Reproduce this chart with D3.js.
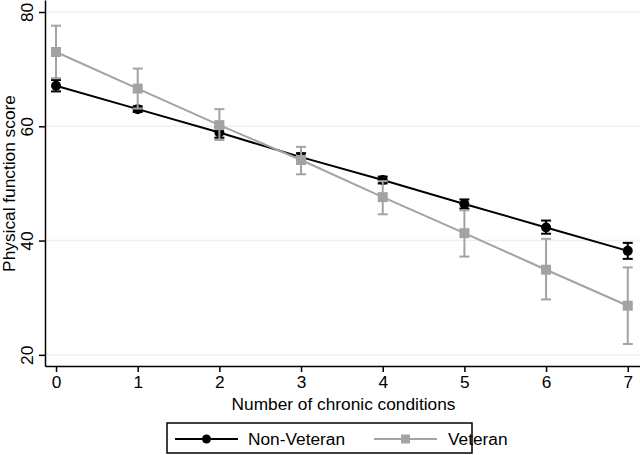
<!DOCTYPE html>
<html>
<head>
<meta charset="utf-8">
<script src="https://cdn.jsdelivr.net/npm/d3@7"></script>
<style>
  html, body { margin: 0; padding: 0; background: #fff; }
  svg { display: block; font-family: "Liberation Sans", Arial, Helvetica, sans-serif; }
</style>
</head>
<body>
<svg id="chart" width="640" height="455"></svg>
<script>
// ---- data ----
const conditions = [0, 1, 2, 3, 4, 5, 6, 7];
const nonVeteran = [67.1, 63.0, 58.9, 54.6, 50.6, 46.4, 42.3, 38.2];
const nonVeteranLo = [66.1, 62.5, 58.0, 53.9, 50.0, 45.6, 41.2, 36.8];
const nonVeteranHi = [68.1, 63.5, 59.8, 55.3, 51.2, 47.2, 43.5, 39.6];
const veteran = [73.0, 66.6, 60.2, 54.1, 47.6, 41.3, 34.9, 28.6];
const veteranLo = [68.4, 63.1, 57.6, 51.6, 44.6, 37.2, 29.7, 21.9];
const veteranHi = [77.6, 70.1, 63.0, 56.4, 50.4, 45.3, 40.3, 35.3];
const yTicks = [20, 40, 60, 80];
const xTicks = [0, 1, 2, 3, 4, 5, 6, 7];
const seriesNames = ["Non-Veteran", "Veteran"];

(function () {
const svg = d3.select("#chart");
const mLeft = 45, mRight = 640, mTop = 0, mBottom = 366;
const FS = 17.3;

const x = d3.scaleLinear().domain([-0.135, 7.15]).range([mLeft, mRight]);
const y = d3.scaleLinear().domain([18.05, 82.1]).range([mBottom, mTop]);

const black = "#000000", gray = "#a3a3a3";

// gridlines
svg.append("g").selectAll("line").data(yTicks).join("line")
  .attr("x1", mLeft).attr("x2", mRight)
  .attr("y1", d => y(d)).attr("y2", d => y(d))
  .attr("stroke", "#efefef").attr("stroke-width", 1.5);

// axes
const yAxis = svg.append("g").attr("transform", `translate(${mLeft},0)`)
  .call(d3.axisLeft(y).tickValues(yTicks).tickSize(6).tickSizeOuter(0).tickFormat(d3.format("d")));
yAxis.select(".domain").attr("stroke", "#000").attr("stroke-width", 1.5);
yAxis.selectAll(".tick line").attr("stroke", "#000").attr("stroke-width", 1.5);
yAxis.selectAll(".tick text")
  .attr("font-size", FS).attr("fill", "#000")
  .attr("text-anchor", "middle")
  .attr("transform", "rotate(-90)")
  .attr("x", 0).attr("y", -12).attr("dy", 0);

const xAxis = svg.append("g").attr("transform", `translate(0,${mBottom})`)
  .call(d3.axisBottom(x).tickValues(xTicks).tickSize(6).tickSizeOuter(0).tickFormat(d3.format("d")));
xAxis.select(".domain").attr("stroke", "#000").attr("stroke-width", 1.5);
xAxis.selectAll(".tick line").attr("stroke", "#000").attr("stroke-width", 1.5);
xAxis.selectAll(".tick text").attr("font-size", FS).attr("fill", "#000").attr("y", 10);

// axis titles
svg.append("text").attr("x", (mLeft + mRight) / 2 + 1).attr("y", 410)
  .attr("text-anchor", "middle").attr("font-size", FS).attr("fill", "#000")
  .text("Number of chronic conditions");
svg.append("text")
  .attr("transform", `translate(15,${(12 + 355) / 2}) rotate(-90)`)
  .attr("text-anchor", "middle").attr("font-size", FS).attr("fill", "#000")
  .text("Physical function score");

function drawSeries(vals, lo, hi, color, shape) {
  const g = svg.append("g");
  const eb = g.append("g").attr("stroke", color).attr("stroke-width", 2).attr("fill", "none");
  conditions.forEach((c, i) => {
    eb.append("line").attr("x1", x(c)).attr("x2", x(c)).attr("y1", y(lo[i])).attr("y2", y(hi[i]));
    eb.append("line").attr("x1", x(c) - 5).attr("x2", x(c) + 5).attr("y1", y(lo[i])).attr("y2", y(lo[i]));
    eb.append("line").attr("x1", x(c) - 5).attr("x2", x(c) + 5).attr("y1", y(hi[i])).attr("y2", y(hi[i]));
  });
  const line = d3.line().x((d, i) => x(conditions[i])).y(d => y(d));
  g.append("path").datum(vals).attr("d", line)
    .attr("fill", "none").attr("stroke", color).attr("stroke-width", 2);
  if (shape === "circle") {
    g.selectAll("circle").data(vals).join("circle")
      .attr("cx", (d, i) => x(conditions[i])).attr("cy", d => y(d)).attr("r", 5)
      .attr("fill", color);
  } else {
    g.selectAll("rect").data(vals).join("rect")
      .attr("x", (d, i) => x(conditions[i]) - 5).attr("y", d => y(d) - 5)
      .attr("width", 10).attr("height", 10).attr("fill", color);
  }
}

drawSeries(nonVeteran, nonVeteranLo, nonVeteranHi, black, "circle");
drawSeries(veteran, veteranLo, veteranHi, gray, "square");

// legend
const lg = svg.append("g");
lg.append("rect").attr("x", 167).attr("y", 423).attr("width", 305).attr("height", 30)
  .attr("fill", "#fff").attr("stroke", "#000").attr("stroke-width", 1.5);
const legendItems = [
  { name: seriesNames[0], color: black, shape: "circle", x0: 175, x1: 238, tx: 248 },
  { name: seriesNames[1], color: gray, shape: "square", x0: 374, x1: 437, tx: 448 }
];
legendItems.forEach(it => {
  const cy = 439;
  lg.append("line").attr("x1", it.x0).attr("x2", it.x1).attr("y1", cy).attr("y2", cy)
    .attr("stroke", it.color).attr("stroke-width", 2);
  const mx = (it.x0 + it.x1) / 2;
  if (it.shape === "circle") {
    lg.append("circle").attr("cx", mx).attr("cy", cy).attr("r", 4.5).attr("fill", it.color);
  } else {
    lg.append("rect").attr("x", mx - 4.5).attr("y", cy - 4.5).attr("width", 9).attr("height", 9).attr("fill", it.color);
  }
  lg.append("text").attr("x", it.tx).attr("y", cy + 6).attr("font-size", FS).attr("fill", "#000").text(it.name);
});
})();
</script>
</body>
</html>
